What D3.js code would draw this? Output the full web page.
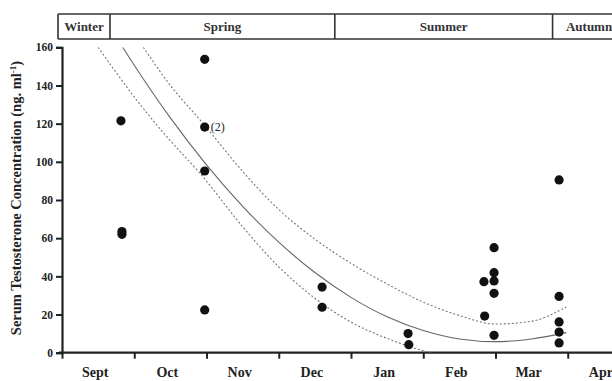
<!DOCTYPE html>
<html>
<head>
<meta charset="utf-8">
<script src="https://cdn.jsdelivr.net/npm/d3@7"></script>
<style>
  html, body { margin: 0; padding: 0; background: #fff; }
  svg { display: block; }
  text { font-family: "Liberation Serif", "DejaVu Serif", serif; }
</style>
</head>
<body>
<svg id="chart" width="612" height="381"></svg>
<script>
// ---- data ----
const months = ["Sept", "Oct", "Nov", "Dec", "Jan", "Feb", "Mar", "Apr"];
const yTicks = [0, 20, 40, 60, 80, 100, 120, 140, 160];
const seasons = ["Winter", "Spring", "Summer", "Autumn"];
const seasonStarts = [-0.055, 0.664, 3.776, 6.79];
const seasonEnds = [0.664, 3.776, 6.79, 7.8];

// sample points: x in months since 1 Sept, y in ng/ml
const pointX = [0.816, 0.83, 0.83, 1.975, 1.975, 1.975, 1.975, 3.6, 3.6, 4.79, 4.8,
                5.84, 5.85, 5.98, 5.98, 5.98, 5.98, 5.98, 6.88, 6.88, 6.88, 6.88, 6.88];
const pointY = [121.5, 63.5, 62, 153.7, 118.2, 95.2, 22.4, 34.4, 23.8, 10.0, 4.2,
                37.2, 19.2, 55, 41.9, 37.6, 31.1, 9.1, 90.5, 29.5, 16.1, 10.8, 5.1];
const annotations = [{x: 1.975, y: 118.2, label: "(2)"}];

// fitted curve and 95% band
const fitX = [0.84, 1, 1.5, 2, 2.5, 3, 3.5, 4, 4.5, 5, 5.5, 6, 6.5, 6.98];
const fitY = [160, 150.6, 123, 98.4, 76.7, 57.9, 42, 29, 18.8, 11.6, 7.2, 5.8, 7.2, 10.5];
const upperX = [1.125, 1.5, 1.955, 2.5, 3, 3.5, 4, 4.5, 5, 5.5, 6, 6.5, 6.98];
const upperY = [160, 140, 120, 95, 75, 59.5, 46.8, 36, 26.5, 19.5, 15, 16.5, 24];
const lowerX = [0.5, 1, 1.5, 1.91, 2.5, 3, 3.5, 4, 4.5, 5, 5.1];
const lowerY = [160, 134, 111, 94, 66, 45, 28.5, 16, 7.5, 1, 0];

// ---- layout ----
const svg = d3.select("#chart");
const x = d3.scaleLinear().domain([0, 8]).range([62, 640]);
const y = d3.scaleLinear().domain([0, 160]).range([352.7, 47.3]);

svg.append("defs").append("clipPath").attr("id", "plot")
  .append("rect").attr("x", 62).attr("y", y(160)).attr("width", 560).attr("height", y(0) - y(160));

// season header
const hdr = svg.append("g");
const hTop = 14, hBot = 39;
[hTop, hBot].forEach(yy => hdr.append("line").attr("x1", x(seasonStarts[0])).attr("x2", 612)
  .attr("y1", yy).attr("y2", yy).attr("stroke", "#333").attr("stroke-width", 1.6));
seasons.forEach((s, i) => {
  hdr.append("line").attr("x1", x(seasonStarts[i])).attr("x2", x(seasonStarts[i]))
    .attr("y1", hTop).attr("y2", hBot).attr("stroke", "#333").attr("stroke-width", 1.6);
  hdr.append("text").attr("x", (x(seasonStarts[i]) + x(seasonEnds[i])) / 2).attr("y", 31)
    .attr("text-anchor", "middle").attr("font-size", 13).attr("font-weight", "bold")
    .attr("fill", "#333").text(s);
});

// axes
const yAxis = svg.append("g").attr("transform", "translate(62,0)")
  .call(d3.axisLeft(y).tickValues(yTicks).tickSize(6).tickPadding(3));
yAxis.select(".domain").attr("stroke", "#222").attr("stroke-width", 2.2);
yAxis.selectAll(".tick line").attr("stroke", "#222").attr("stroke-width", 2);
yAxis.selectAll(".tick text").attr("font-family", "Liberation Serif").attr("font-size", 11.5)
  .attr("font-weight", "bold").attr("fill", "#222");

const xAxis = svg.append("g").attr("transform", `translate(0,${y(0)})`)
  .call(d3.axisBottom(x).tickValues(d3.range(0, 8)).tickSize(6).tickFormat(""));
xAxis.select(".domain").attr("stroke", "#222").attr("stroke-width", 2.2).attr("d", "M59,0H612");
xAxis.selectAll(".tick line").attr("stroke", "#222").attr("stroke-width", 2);

svg.append("g").selectAll("text").data(months).join("text")
  .attr("x", (d, i) => x(i + 0.5) - 3).attr("y", 377)
  .attr("text-anchor", "middle").attr("font-size", 14).attr("font-weight", "bold")
  .attr("fill", "#222").text(d => d);

// y label
svg.append("text").attr("transform", "translate(21,198) rotate(-90)")
  .attr("text-anchor", "middle").attr("font-size", 14.5).attr("font-weight", "bold").attr("fill", "#222")
  .call(t => {
    t.append("tspan").text("Serum Testosterone Concentration (ng. ml");
    t.append("tspan").attr("baseline-shift", "super").attr("font-size", 9).text("-1");
    t.append("tspan").text(")");
  });

// curves
const line = d3.line().x(d => x(d[0])).y(d => y(d[1])).curve(d3.curveMonotoneX);
const plot = svg.append("g").attr("clip-path", "url(#plot)");
plot.append("path").attr("d", line(d3.zip(fitX, fitY)))
  .attr("fill", "none").attr("stroke", "#666").attr("stroke-width", 1.1);
plot.append("path").attr("d", line(d3.zip(upperX, upperY)))
  .attr("fill", "none").attr("stroke", "#777").attr("stroke-width", 1.1).attr("stroke-dasharray", "2,2");
plot.append("path").attr("d", line(d3.zip(lowerX, lowerY)))
  .attr("fill", "none").attr("stroke", "#777").attr("stroke-width", 1.1).attr("stroke-dasharray", "2,2");

// points
svg.append("g").selectAll("circle").data(d3.zip(pointX, pointY)).join("circle")
  .attr("cx", d => x(d[0])).attr("cy", d => y(d[1])).attr("r", 4.6).attr("fill", "#111");

svg.append("g").selectAll("text").data(annotations).join("text")
  .attr("x", d => x(d.x) + 6).attr("y", d => y(d.y) + 4)
  .attr("font-size", 12).attr("fill", "#222").text(d => d.label);
</script>
</body>
</html>
